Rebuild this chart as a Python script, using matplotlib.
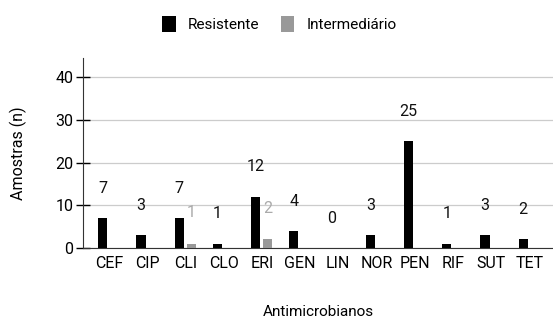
import matplotlib
matplotlib.use("Agg")
import matplotlib.pyplot as plt
import numpy as np

#%% data
categorias = ["CEF", "CIP", "CLI", "CLO", "ERI", "GEN", "LIN", "NOR", "PEN", "RIF", "SUT", "TET"]
resistente = [7, 3, 7, 1, 12, 4, 0, 3, 25, 1, 3, 2]
intermediario = [0, 0, 1, 0, 2, 0, 0, 0, 0, 0, 0, 0]

#%% plot
plt.rcParams['font.family'] = ['Roboto', 'DejaVu Sans']
fs = 11.5

fig = plt.figure(figsize=(5.53, 3.25), dpi=100)
ax = fig.add_axes([0.150, 0.237, 0.850, 0.585])

x = np.arange(len(categorias))
w = 0.24
b1 = ax.bar(x - 0.16, resistente, w, color='black', label='Resistente', zorder=3)
b2 = ax.bar(x + 0.16, intermediario, w, color='#999999', label='Intermediário', zorder=3)

# value labels sit well above the bars
for xi, v in zip(x, resistente):
    ax.annotate(str(v), (xi - 0.16, v), xytext=(0, 21.5), textcoords='offset points',
                ha='center', va='center', fontsize=fs, color='#111111')
for xi, v in zip(x, intermediario):
    if v > 0:
        ax.annotate(str(v), (xi + 0.16, v), xytext=(0, 22.5), textcoords='offset points',
                    ha='center', va='center', fontsize=fs, color='#aaaaaa')

ax.set_xlim(-0.68, 11.62)
ax.set_ylim(0, 44.5)
ax.set_yticks([0, 10, 20, 30, 40])
ax.set_xticks(x)
ax.set_xticklabels(categorias)
ax.tick_params(axis='x', length=0, pad=6, labelsize=fs)
ax.tick_params(axis='y', direction='inout', length=10, width=1, labelsize=fs, pad=2)
ax.grid(axis='y', color='#cccccc', linewidth=0.9, zorder=0)

for s in ['top', 'right']:
    ax.spines[s].set_visible(False)
ax.spines['left'].set_color('#333333')
ax.spines['bottom'].set_color('#333333')

ax.set_ylabel('Amostras (n)', fontsize=fs, labelpad=20)
ax.set_xlabel('Antimicrobianos', fontsize=fs - 0.5, labelpad=24)

fig.legend(handles=[b1, b2], loc='center', bbox_to_anchor=(0.505, 0.926), ncol=2,
           frameon=False, fontsize=fs - 0.5, handlelength=0.9, handleheight=1.2,
           columnspacing=1.4, handletextpad=0.8)

plt.savefig('out.png', dpi=100)
